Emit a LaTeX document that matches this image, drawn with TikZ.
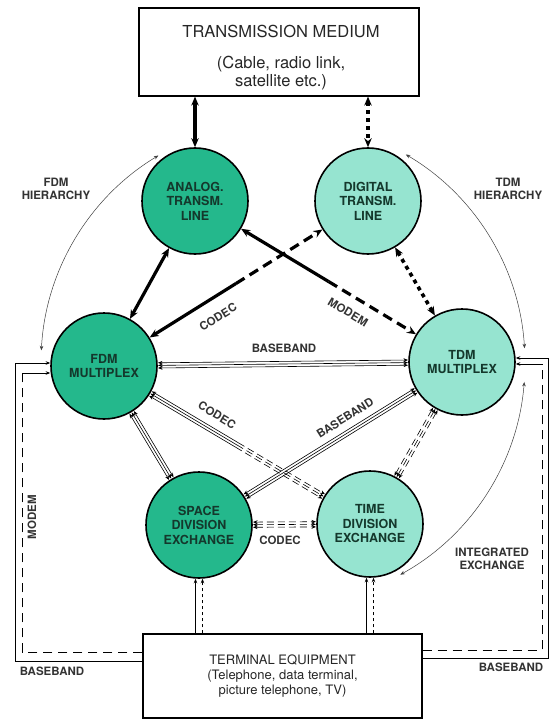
\documentclass[tikz,border=0pt]{standalone}
\usepackage{fontspec}
\setmainfont{TeX Gyre Heros}
\usepackage{xcolor}
\usetikzlibrary{arrows.meta, calc, positioning}

\definecolor{darkgreen}{RGB}{36,184,140}
\definecolor{lightgreen}{RGB}{150,228,208}
\definecolor{inktext}{RGB}{20,56,44}

\tikzset{
  fattip/.tip={Stealth[length=9pt,width=7.5pt]},
  thintip/.tip={Stealth[length=4.5pt,width=3.6pt]},
}

\begin{document}
\begin{tikzpicture}[x=1pt, y=-1pt,
  unit/.style={circle, draw, line width=1.6pt, minimum size=106pt, inner sep=0pt,
    align=center, text=inktext, font=\fontsize{12.5}{14.5}\selectfont\bfseries},
  analogue/.style={unit, fill=darkgreen},
  digit/.style={unit, fill=lightgreen},
  box/.style={draw, line width=1.2pt, align=center, text=black!85},
  lbl/.style={align=center, text=black!80, font=\fontsize{11.5}{13.5}\selectfont\bfseries},
  fat/.style={line width=3.2pt},
  fatdot/.style={line width=3.6pt, dash pattern=on 4pt off 4pt},
  fatdash/.style={line width=3.2pt, dash pattern=on 10pt off 6pt},
  tri/.style={line width=0.6pt, shorten <=54pt, shorten >=54pt},
  tridash/.style={dash pattern=on 7pt off 4pt},
  loopline/.style={line width=0.8pt},
  arcline/.style={line width=0.5pt, black!75, thintip-thintip},
]
  \useasboundingbox (0,0) rectangle (549,722);

  % boxes and exchanges
  \node[box, minimum width=280pt, minimum height=88pt] (medium) at (279,52) {};
  \node[align=center, text=black!85, font=\fontsize{16.5}{18.5}\selectfont]
    (mediumtext) at (281,58) {TRANSMISSION MEDIUM\\[12pt](Cable, radio link,\\satellite etc.)};
  \node[box, minimum width=279pt, minimum height=84pt, font=\fontsize{13}{15}\selectfont]
    (term) at (282.5,676) {TERMINAL EQUIPMENT\\(Telephone, data terminal,\\picture telephone, TV)};

  \node[analogue] (analog) at (195,201) {ANALOG.\\TRANSM.\\LINE};
  \node[digit] (digital) at (368,201) {DIGITAL\\TRANSM.\\LINE};
  \node[analogue] (fdm) at (104,366) {FDM\\MULTIPLEX};
  \node[digit] (tdm) at (462,362) {TDM\\MULTIPLEX};
  \node[analogue] (space) at (199,525) {SPACE\\DIVISION\\EXCHANGE};
  \node[digit] (time) at (370,524) {TIME\\DIVISION\\EXCHANGE};

  % transmission lines
  \draw[fat, fattip-fattip] (medium.south -| analog) -- (analog);
  \draw[fatdot, fattip-fattip] (medium.south -| digital) -- (digital);
  \draw[fat, fattip-fattip] (analog) -- (fdm);
  \draw[fatdot, fattip-fattip] (digital) -- (tdm);

  \coordinate (codecmid) at ($(fdm)!0.5!(digital)$);
  \coordinate (modemmid) at ($(analog)!0.5!(tdm)$);
  \draw[fat, fattip-] (fdm) -- (codecmid);
  \draw[fatdash, -fattip] (codecmid) -- (digital);
  \draw[fat, fattip-] (analog) -- (modemmid);
  \draw[fatdash, -fattip] (modemmid) -- (tdm);

  % baseband / codec bundles
  \foreach \a/\b/\s in {fdm/tdm/solid, fdm/space/solid, tdm/space/solid,
                        tdm/time/tridash, space/time/tridash}
    \foreach \o in {-2.6,0,2.6}
      \draw[tri, \s, thintip-thintip] ($(\a)!\o pt!90:(\b)$) -- ($(\b)!\o pt!-90:(\a)$);

  \coordinate (ftmid) at ($(fdm)!0.5!(time)$);
  \foreach \o in {-2.6,0,2.6} {
    \draw[line width=0.6pt, shorten <=54pt, thintip-] ($(fdm)!\o pt!90:(time)$) -- ($(ftmid)!\o pt!90:(time)$);
    \draw[line width=0.6pt, tridash, shorten >=54pt, -thintip] ($(ftmid)!\o pt!90:(time)$) -- ($(time)!\o pt!-90:(fdm)$);
  }

  % terminal feeds
  \draw[loopline, -thintip] ([xshift=-3.5pt]space.south |- term.north) -- ([xshift=-3.5pt]space.south);
  \draw[loopline, dashed, -thintip] ([xshift=3.5pt]space.south |- term.north) -- ([xshift=3.5pt]space.south);
  \draw[loopline, -thintip] ([xshift=-3.5pt]time.south |- term.north) -- ([xshift=-3.5pt]time.south);
  \draw[loopline, dashed, -thintip] ([xshift=3.5pt]time.south |- term.north) -- ([xshift=3.5pt]time.south);

  \coordinate (lout) at (15,363);
  \coordinate (lin) at (22,373);
  \coordinate (rout) at (548,358);
  \coordinate (rin) at (542,364);
  \draw[loopline, -thintip] ([yshift=15pt]term.west) -| (lout) -- (lout -| fdm.west);
  \draw[loopline, dash pattern=on 9pt off 6pt] ([yshift=24pt]term.west) -| (lin);
  \draw[loopline, -thintip] (lin) -- (lin -| fdm.west);
  \draw[loopline, -thintip] ([yshift=18pt]term.east) -| (rout) -- (rout -| tdm.east);
  \draw[loopline, dash pattern=on 9pt off 6pt] ([yshift=26pt]term.east) -| (rin);
  \draw[loopline, -thintip] (rin) -- (rin -| tdm.east);

  % hierarchy arcs
  \coordinate (hub) at (283,363);
  \draw[arcline] ([shift={(-121:242)}]hub) arc[start angle=-121, end angle=-177, radius=242];
  \draw[arcline] ([shift={(-59.5:242)}]hub) arc[start angle=-59.5, end angle=-3.5, radius=242];
  \draw[arcline] ([shift={(4.5:242)}]hub) arc[start angle=4.5, end angle=61, radius=242];

  % labels
  \node[lbl] (fdmh) at (56,189) {FDM\\HIERARCHY};
  \node[lbl] (tdmh) at (508,189) {TDM\\HIERARCHY};
  \node[lbl] (intx) at (492,559) {INTEGRATED\\EXCHANGE};
  \node[lbl, rotate=90] (lmodem) at (32,517) {MODEM};
  \node[lbl] (lbase) at (52,671) {BASEBAND};
  \node[lbl] (rbase) at (511,667) {BASEBAND};
  \node[lbl] (topbase) at (284,348) {BASEBAND};
  \node[lbl, rotate=32] (ucodec) at (218,317) {CODEC};
  \node[lbl, rotate=-31] (umodem) at (348,312) {MODEM};
  \node[lbl, rotate=-31] (mcodec) at (217,415) {CODEC};
  \node[lbl, rotate=32] (mbase) at (345,418) {BASEBAND};
  \node[lbl] (bcodec) at (280,540) {CODEC};
\end{tikzpicture}
\end{document}
